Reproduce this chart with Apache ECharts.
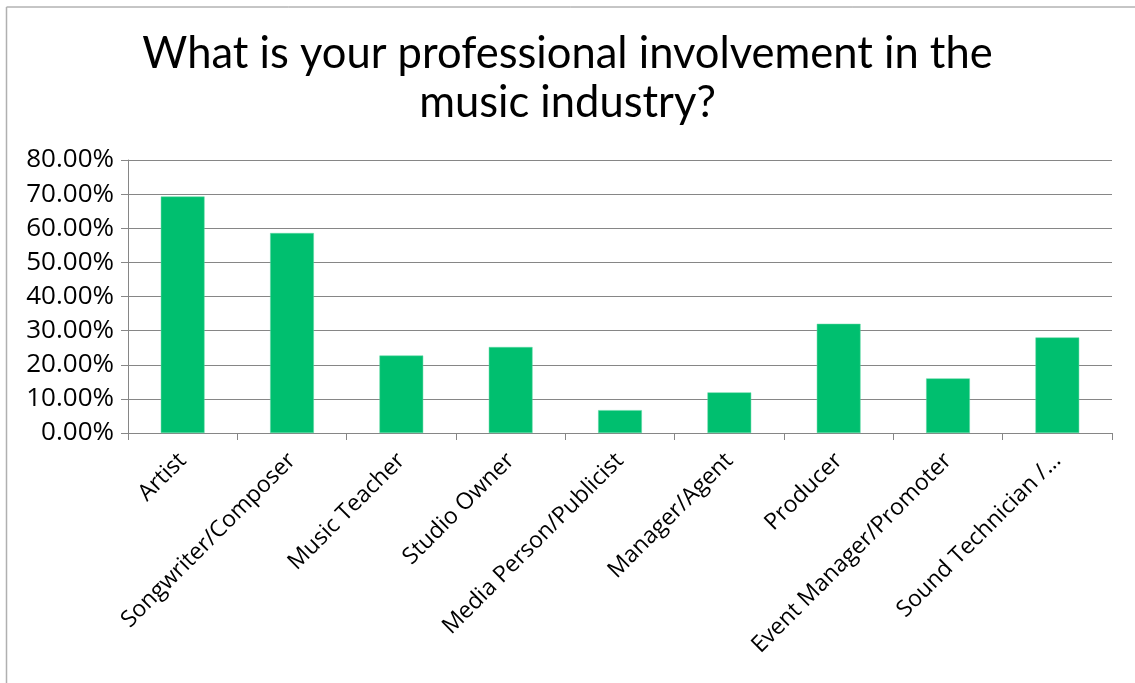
<!DOCTYPE html>
<html>
<head>
<meta charset="utf-8">
<script src="https://cdn.jsdelivr.net/npm/echarts@6/dist/echarts.min.js"></script>
<style>
  html, body { margin: 0; padding: 0; background: #fff; }
  #chart { width: 1135px; height: 683px; }
</style>
</head>
<body>
<div id="chart"></div>
<script>
// Survey responses: share of respondents per professional role
const categories = [
  'Artist',
  'Songwriter/Composer',
  'Music Teacher',
  'Studio Owner',
  'Media Person/Publicist',
  'Manager/Agent',
  'Producer',
  'Event Manager/Promoter',
  'Sound Technician /…'
];
const shares = [0.693, 0.586, 0.227, 0.252, 0.067, 0.119, 0.320, 0.160, 0.280];
const titleLines = ['What is your professional involvement in the', 'music industry?'];

const chart = echarts.init(document.getElementById('chart'), null, { renderer: 'canvas' });

chart.setOption({
  animation: false,
  backgroundColor: '#ffffff',
  title: {
    text: titleLines.join('\n'),
    left: 'center',
    top: 24,
    textStyle: {
      fontFamily: 'Lato, "Open Sans", sans-serif',
      fontWeight: 'normal',
      fontSize: 43.5,
      lineHeight: 49,
      color: '#000000'
    }
  },
  grid: { left: 128, right: 23, top: 160, bottom: 250, containLabel: false },
  xAxis: {
    type: 'category',
    data: categories,
    axisLine: { lineStyle: { color: '#868686', width: 1 } },
    axisTick: { show: true, length: 7, alignWithLabel: false, lineStyle: { color: '#868686' } },
    axisLabel: {
      rotate: 45,
      interval: 0,
      margin: 24,
      fontFamily: '"Open Sans", Lato, sans-serif',
      fontSize: 23,
      color: '#000000'
    }
  },
  yAxis: {
    type: 'value',
    min: 0,
    max: 0.8,
    interval: 0.1,
    axisLine: { show: true, lineStyle: { color: '#868686', width: 1 } },
    axisTick: { show: true, length: 7, lineStyle: { color: '#868686' } },
    splitLine: { show: true, lineStyle: { color: '#868686', width: 1 } },
    axisLabel: {
      margin: 14,
      fontFamily: '"Open Sans", Lato, sans-serif',
      fontSize: 26,
      color: '#000000',
      formatter: v => (v * 100).toFixed(2) + '%'
    }
  },
  series: [{
    type: 'bar',
    data: shares,
    barWidth: '40%',
    itemStyle: { color: '#00BF6F', borderColor: '#5fd9a2', borderWidth: 0.5 }
  }],
  graphic: [
    { type: 'line', shape: { x1: 6.5, y1: 7, x2: 1135, y2: 7 }, style: { stroke: '#8c8c8c', lineWidth: 1 } },
    { type: 'line', shape: { x1: 6.5, y1: 7, x2: 6.5, y2: 683 }, style: { stroke: '#b0b0b0', lineWidth: 1.5 } }
  ]
});
</script>
</body>
</html>
